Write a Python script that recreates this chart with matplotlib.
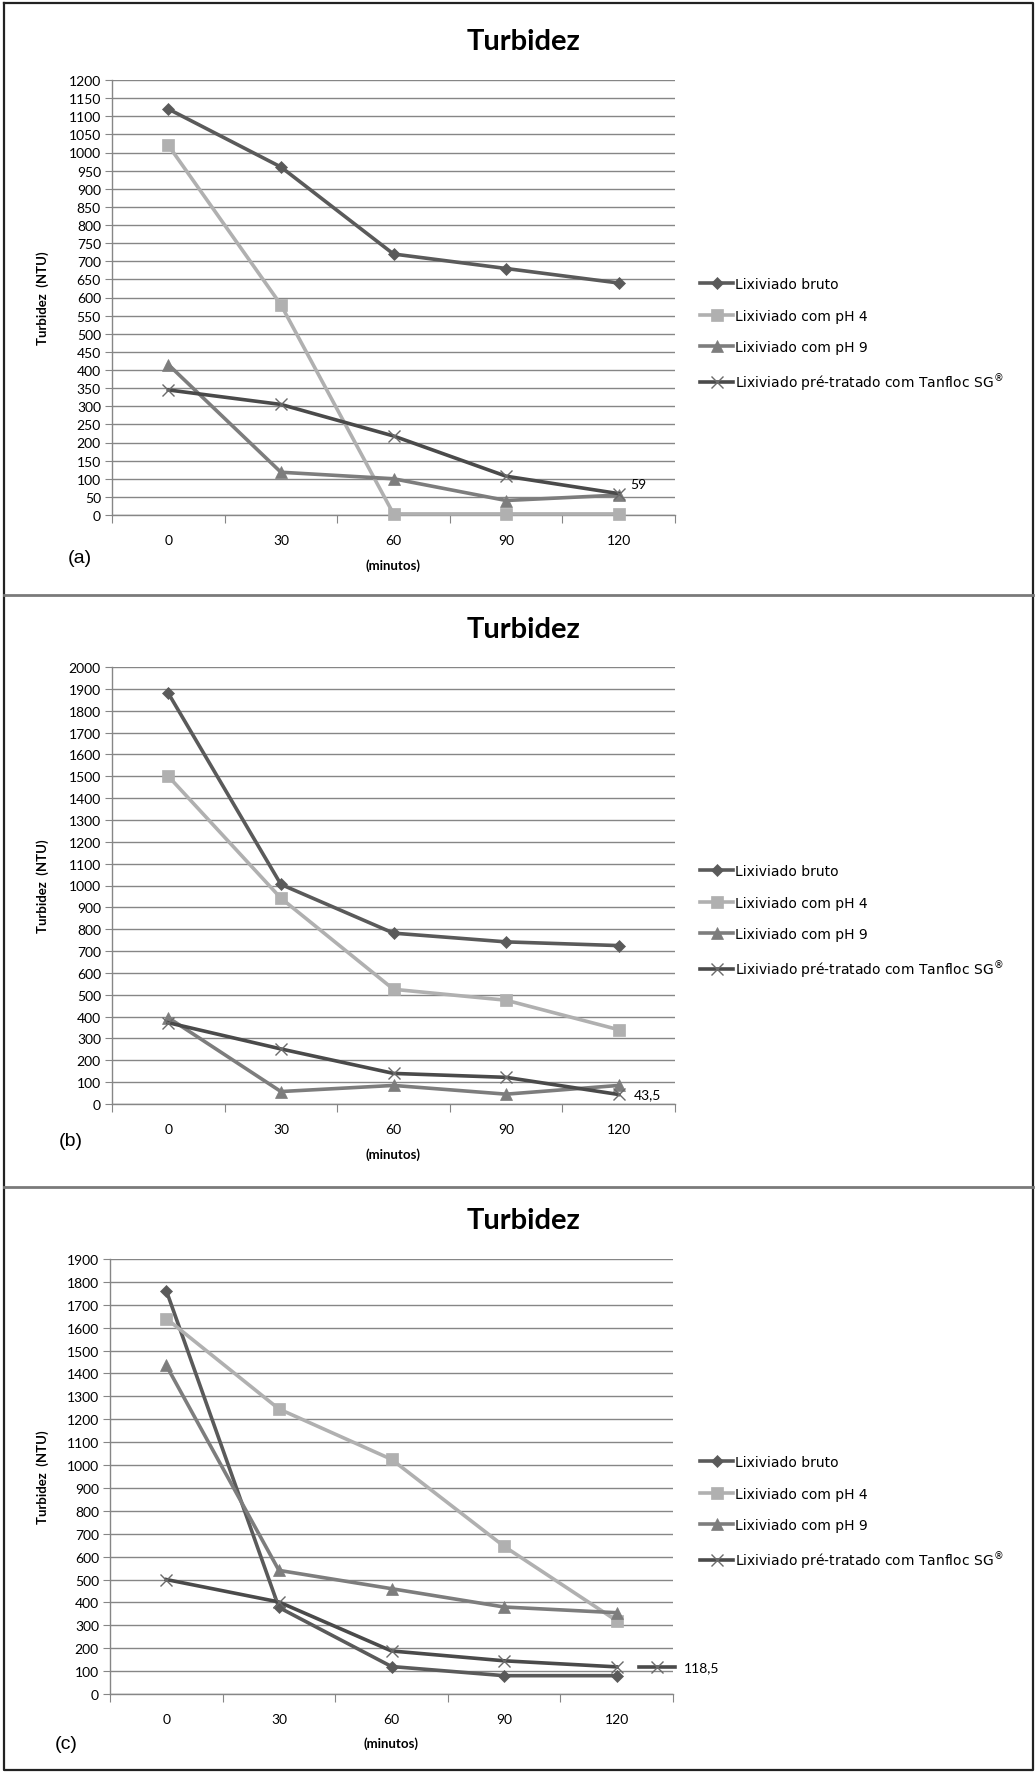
import numpy as np
import matplotlib
matplotlib.use("Agg")
import matplotlib.pyplot as plt
from matplotlib.lines import Line2D

minutos = ["0", "30", "60", "90", "120"]
series_names = ["Lixiviado bruto", "Lixiviado com pH 4", "Lixiviado com pH 9",
                "Lixiviado pré-tratado com Tanfloc SG$^{\u00ae}$"]

# (a)
bruto_a = [1120, 960, 720, 680, 640]
ph4_a = [1020, 580, 3, 3, 3]
ph9_a = [415, 118, 100, 40, 55]
tanfloc_a = [345, 305, 218, 107, 59]
# (b)
bruto_b = [1880, 1005, 782, 742, 725]
ph4_b = [1500, 942, 525, 475, 340]
ph9_b = [395, 57, 85, 45, 85]
tanfloc_b = [372, 252, 140, 122, 43.5]
# (c)
bruto_c = [1762, 378, 120, 80, 80]
ph4_c = [1640, 1245, 1025, 645, 320]
ph9_c = [1435, 540, 460, 380, 355]
tanfloc_c = [500, 402, 188, 145, 118.5]

ymax = [1200, 2000, 1900]
ystep = [50, 100, 100]
letters = ["(a)", "(b)", "(c)"]
last_labels = ["59", "43,5", "118,5"]

colors = ["#5a5a5a", "#b0b0b0", "#7d7d7d", "#4a4a4a"]
markers = ["D", "s", "^", "x"]
msizes = [6, 8.5, 8, 9]

W, H = 1036, 1774
fig = plt.figure(figsize=(W / 100, H / 100), dpi=100)
plt.rcParams["mathtext.fontset"] = "dejavusans"

def fx(px):
    return px / W

def fy(py):
    return 1 - py / H

# pixel layout of each panel: (plot left, plot right, plot top, plot bottom, title y, letter x, letter y, xlabel y, legend center y)
panels = [
    (112, 675, 81, 516, 42, 68, 559, 566, 336),
    (112, 675, 668, 1105, 630, 59, 1142, 1155, 923),
    (110, 673, 1260, 1695, 1221, 55, 1745, 1744, 1514),
]
data = [
    [bruto_a, ph4_a, ph9_a, tanfloc_a],
    [bruto_b, ph4_b, ph9_b, tanfloc_b],
    [bruto_c, ph4_c, ph9_c, tanfloc_c],
]

x = np.arange(len(minutos))
for i, (l, r, t, b, ty, lx, ly, xly, legy) in enumerate(panels):
    ax = fig.add_axes([fx(l), fy(b), fx(r - l), (b - t) / H])
    handles = []
    for j, vals in enumerate(data[i]):
        mec = "#6a6a6a" if markers[j] == "x" else colors[j]
        h, = ax.plot(x, vals, color=colors[j], lw=2.6, marker=markers[j],
                     ms=msizes[j], mec=mec, mfc=colors[j],
                     mew=1.0 if markers[j] == "x" else 0.5,
                     clip_on=False, zorder=3)
        handles.append(h)
    ax.set_xlim(-0.5, len(minutos) - 0.5)
    ax.set_ylim(0, ymax[i])
    ax.set_yticks(np.arange(0, ymax[i] + 1, ystep[i]))
    ax.set_xticks(np.arange(-0.5, len(minutos), 1))
    ax.set_xticklabels([])
    ax.set_xticks(x, minor=True)
    ax.set_xticklabels(minutos, minor=True, fontsize=10, family="Lato")
    ax.tick_params(axis="x", which="major", length=6, color="#868686", direction="out")
    ax.tick_params(axis="x", which="minor", length=0, pad=14)
    ax.tick_params(axis="y", length=5, color="#868686", labelsize=10, pad=3)
    for lab in ax.get_yticklabels():
        lab.set_family("Lato")
    ax.grid(axis="y", color="#868686", lw=1)
    ax.set_axisbelow(True)
    for s in ["top", "right"]:
        ax.spines[s].set_visible(False)
    for s in ["left", "bottom"]:
        ax.spines[s].set_color("#868686")
        ax.spines[s].set_linewidth(1)

    # label for last Tanfloc value
    tv = data[i][3][-1]
    if i == 0:
        ax.annotate(last_labels[i], (x[-1], tv), xytext=(8, 7), textcoords="offset points",
                    fontsize=10, family="Lato", va="center", annotation_clip=False)
    elif i == 1:
        ax.annotate(last_labels[i], (x[-1], tv), xytext=(11, 0), textcoords="offset points",
                    fontsize=10, family="Lato", va="center", annotation_clip=False)
    else:
        ax.plot([x[-1] + 0.2, x[-1] + 0.52], [tv, tv], color=colors[3], lw=2.6, clip_on=False)
        ax.plot([x[-1] + 0.36], [tv], marker="x", ms=9, mec="#6a6a6a", mew=1.0, clip_on=False)
        ax.annotate(last_labels[i], (x[-1] + 0.52, tv), xytext=(6, 0), textcoords="offset points",
                    fontsize=10, family="Lato", va="center", annotation_clip=False)

    fig.text(fx(524), fy(ty), "Turbidez", ha="center", va="center", fontsize=21,
             fontweight="bold", family="Lato")
    fig.text(fx(43), fy((t + b) / 2), "Turbidez  (NTU)", rotation=90, ha="center",
             va="center", fontsize=9.5, fontweight="bold", family="Lato")
    fig.text(fx((l + r) / 2), fy(xly), "(minutos)", ha="center", va="center",
             fontsize=9.5, fontweight="bold", family="Lato")
    fig.text(fx(lx), fy(ly), letters[i], ha="left", va="center", fontsize=14,
             family="Liberation Sans")

    ax.legend(handles, series_names, loc="center left",
              bbox_to_anchor=(fx(700), fy(legy)), bbox_transform=fig.transFigure,
              frameon=False, prop={"family": "DejaVu Sans", "size": 10},
              handlelength=2.4, handletextpad=0.1, labelspacing=1.25, borderpad=0,
              borderaxespad=0)

# frame and panel separators
frame_x = [fx(4), fx(1033), fx(1033), fx(4), fx(4)]
frame_y = [fy(4), fy(4), fy(1771), fy(1771), fy(4)]
fig.add_artist(Line2D(frame_x, frame_y, color="#222222", lw=1.6))
for sy in [596, 1188]:
    fig.add_artist(Line2D([fx(4), fx(1033)], [fy(sy), fy(sy)], color="#7a7a7a", lw=2))

fig.savefig("out.png", dpi=100)
